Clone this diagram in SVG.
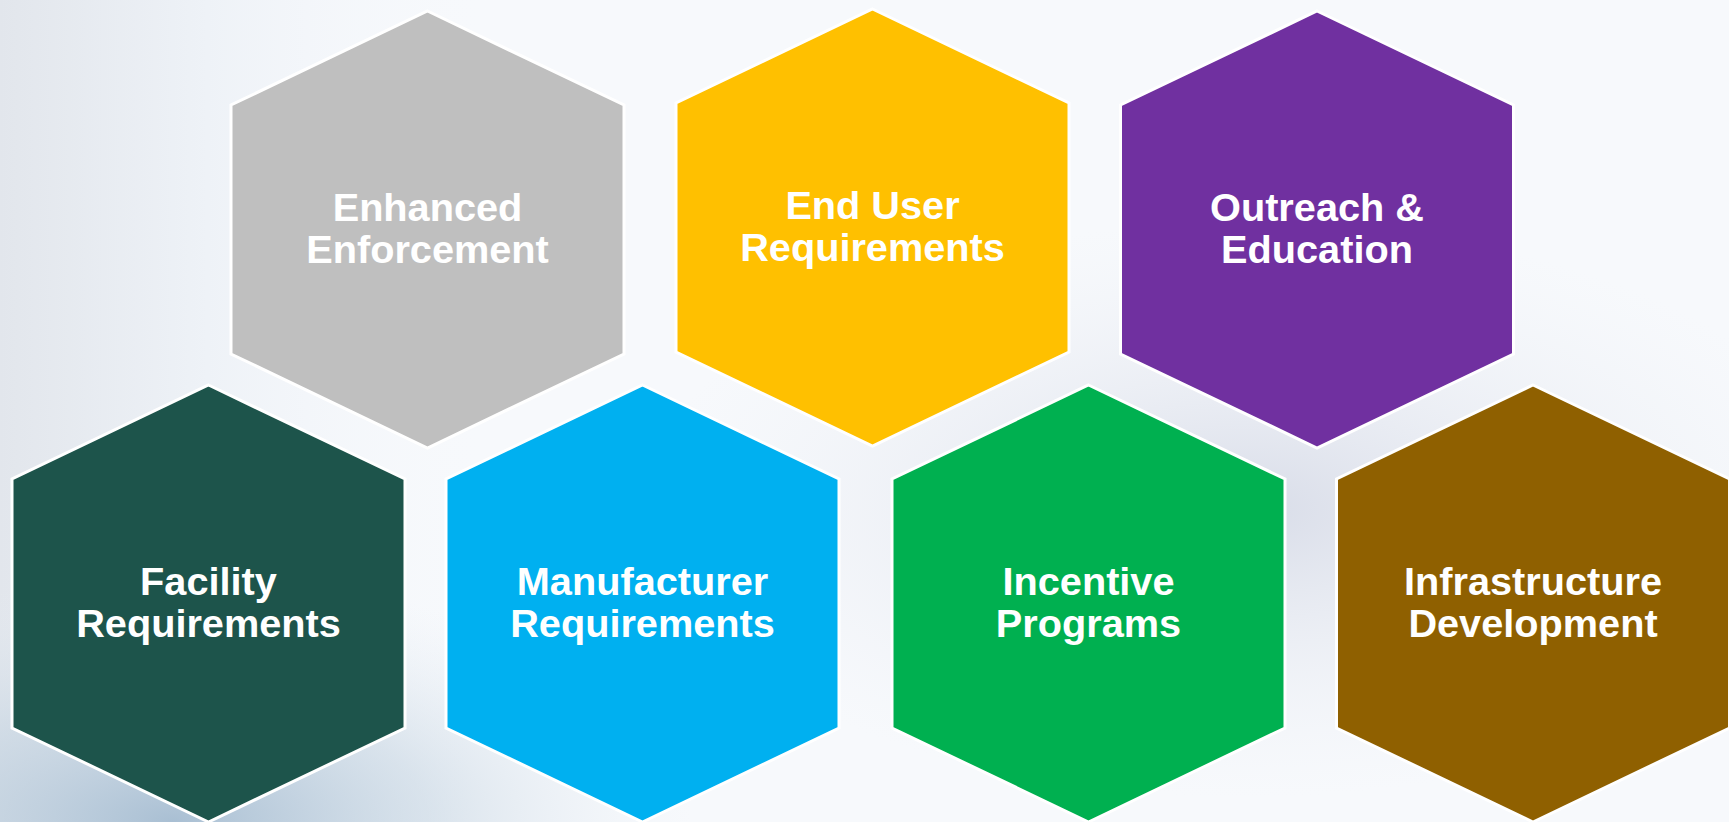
<svg xmlns="http://www.w3.org/2000/svg" width="1729" height="822" viewBox="0 0 1729 822">
<defs>
<linearGradient id="bgL" x1="0" y1="0" x2="1" y2="0">
<stop offset="0" stop-color="#e2e6ec"/>
<stop offset="0.12" stop-color="#eef2f7"/>
<stop offset="0.3" stop-color="#f8fafd" stop-opacity="0"/>
</linearGradient>
<radialGradient id="bgBL" cx="0.1" cy="1" r="0.3">
<stop offset="0" stop-color="#a9bfd3"/>
<stop offset="0.5" stop-color="#c6d5e2" stop-opacity="0.6"/>
<stop offset="1" stop-color="#e8eef4" stop-opacity="0"/>
</radialGradient>
<radialGradient id="bgMid" cx="0.72" cy="0.62" r="0.35">
<stop offset="0" stop-color="#d8dce8"/>
<stop offset="1" stop-color="#eef1f6" stop-opacity="0"/>
</radialGradient>
<style>
.hex{stroke:#ffffff;stroke-width:3;stroke-linejoin:miter}
.lbl{font-family:"Liberation Sans",Arial,sans-serif;font-weight:bold;font-size:39.7px;fill:#ffffff;text-anchor:middle}
</style>
</defs>
<rect width="1729" height="822" fill="#f7f9fc"/>
<rect width="1729" height="822" fill="url(#bgMid)"/>
<rect width="1729" height="822" fill="url(#bgL)"/>
<rect width="1729" height="822" fill="url(#bgBL)"/>

<g id="enhanced-enforcement">
<polygon class="hex" fill="#bfbfbf" points="427.5,11 624,105 624,354 427.5,448 231,354 231,105"/>
<text class="lbl" x="427.5" y="221">Enhanced</text>
<text class="lbl" x="427.5" y="263">Enforcement</text>
</g>
<g id="end-user-requirements">
<polygon class="hex" fill="#ffc000" points="872.5,9 1069,103 1069,352 872.5,446 676,352 676,103"/>
<text class="lbl" x="872.5" y="219">End User</text>
<text class="lbl" x="872.5" y="261">Requirements</text>
</g>
<g id="outreach-education">
<polygon class="hex" fill="#7030a0" points="1317,11 1513.5,105 1513.5,354 1317,448 1120.5,354 1120.5,105"/>
<text class="lbl" x="1317" y="221">Outreach &amp;</text>
<text class="lbl" x="1317" y="263">Education</text>
</g>
<g id="facility-requirements">
<polygon class="hex" fill="#1d544b" points="208.5,385 405,479 405,728 208.5,822 12,728 12,479"/>
<text class="lbl" x="208.5" y="595">Facility</text>
<text class="lbl" x="208.5" y="637">Requirements</text>
</g>
<g id="manufacturer-requirements">
<polygon class="hex" fill="#00b0f0" points="642.5,385 839,479 839,728 642.5,822 446,728 446,479"/>
<text class="lbl" x="642.5" y="595">Manufacturer</text>
<text class="lbl" x="642.5" y="637">Requirements</text>
</g>
<g id="incentive-programs">
<polygon class="hex" fill="#00b050" points="1088.5,385 1285,479 1285,728 1088.5,822 892,728 892,479"/>
<text class="lbl" x="1088.5" y="595">Incentive</text>
<text class="lbl" x="1088.5" y="637">Programs</text>
</g>
<g id="infrastructure-development">
<polygon class="hex" fill="#8f6000" points="1533,385 1729.5,479 1729.5,728 1533,822 1336.5,728 1336.5,479"/>
<text class="lbl" x="1533" y="595">Infrastructure</text>
<text class="lbl" x="1533" y="637">Development</text>
</g>
<g id="connectors"></g>
</svg>
